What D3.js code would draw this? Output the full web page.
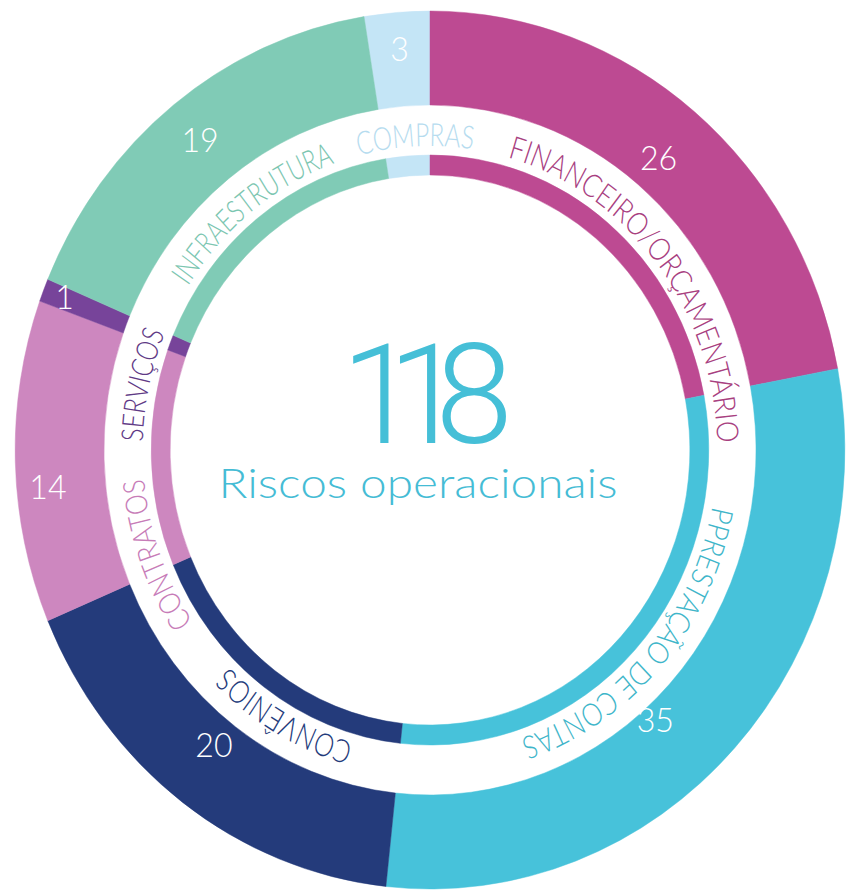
<!DOCTYPE html>
<html>
<head>
<meta charset="utf-8">
<title>Riscos operacionais</title>
<script src="https://d3js.org/d3.v7.min.js"></script>
<style>
  body { margin: 0; background: #fff; }
  svg { font-family: "Lato", "Open Sans", sans-serif; }
</style>
</head>
<body>
<script>

// data, in drawing order (clockwise, Compras ends at 12 o'clock)
var categories = ["COMPRAS", "FINANCEIRO/ORÇAMENTÁRIO", "PPRESTAÇÃO DE CONTAS", "CONVÊNIOS", "CONTRATOS", "SERVIÇOS", "INFRAESTRUTURA"];
var values = [3, 26, 35, 20, 14, 1, 19];
var colors = ["#c4e5f6", "#bd4a92", "#47c2da", "#243b7b", "#cd87bf", "#77449a", "#80cbb6"];
var labelColors = ["#b6dcef", "#a8407f", "#3fb6ca", "#243b7b", "#c77cb8", "#5f3a86", "#7cc6b1"];
var centerLabel = "Riscos operacionais";

// layout
var width = 846, height = 893;
var cx = 430, cy = 450, squeeze = 0.945;   // source picture is a bit narrow
var rOuter = 439, rOuterIn = 345, rThin = 295, rThinIn = 275;
var rText = 304, rValue = 392;
// curved label placement: shift from slice middle and arc span (degrees)
var labelShift = [1.6, 12.4, -1.7, -6.6, -18.4, -9.3, -0.3];
var labelSpan = [23, 73, 61, 29, 29, 21, 38];
// number nudges: [radius, degrees]
var valueNudge = [[11, 0], [-13, 0], [-32, 5.8], [-19, 1.2], [14, -3.6], [24, 0.3], [2, 0]];

var total = d3.sum(values);
var rad = Math.PI / 180;

var svg = d3.select("body").append("svg")
    .attr("width", width)
    .attr("height", height);

var g = svg.append("g")
    .attr("transform", "translate(" + cx + "," + cy + ") scale(" + squeeze + ",1)");

var startA = -2 * Math.PI * values[0] / total;
var pie = d3.pie()
    .sort(null)
    .startAngle(startA)
    .endAngle(startA + 2 * Math.PI);

var slices = pie(values);

var outerArc = d3.arc().innerRadius(rOuterIn).outerRadius(rOuter);
var thinArc = d3.arc().innerRadius(rThinIn).outerRadius(rThin);

g.selectAll("path.outer")
    .data(slices)
    .enter().append("path")
    .attr("class", "outer")
    .attr("d", outerArc)
    .style("fill", function (d, i) { return colors[i]; })
    .style("stroke", function (d, i) { return colors[i]; })
    .style("stroke-width", 0.5);

g.selectAll("path.thin")
    .data(slices)
    .enter().append("path")
    .attr("class", "thin")
    .attr("d", thinArc)
    .style("fill", function (d, i) { return colors[i]; })
    .style("stroke", function (d, i) { return colors[i]; })
    .style("stroke-width", 0.5);

// circle path for labels, starts at 6 o'clock and runs clockwise
g.append("path")
    .attr("id", "labelCircle")
    .attr("d", "M0," + rText + " A" + rText + "," + rText + " 0 1,1 0," + (-rText) +
               " A" + rText + "," + rText + " 0 1,1 0," + rText)
    .style("fill", "none");

var circ = 2 * Math.PI * rText;

g.selectAll("text.cat")
    .data(slices)
    .enter().append("text")
    .attr("class", "cat")
    .style("font-size", "32px")
    .style("font-weight", 300)
    .style("fill", function (d, i) { return labelColors[i]; })
    .append("textPath")
    .attr("href", "#labelCircle")
    .attr("text-anchor", "middle")
    .attr("startOffset", function (d, i) {
        var a = (d.startAngle + d.endAngle) / 2 / rad + labelShift[i];
        var along = ((a - 180) % 360 + 360) % 360;
        return (along / 360 * circ).toFixed(1);
    })
    .attr("textLength", function (d, i) { return (labelSpan[i] * rad * rText).toFixed(1); })
    .attr("lengthAdjust", "spacingAndGlyphs")
    .text(function (d, i) { return categories[i]; });

// values in the outer ring
g.selectAll("text.val")
    .data(slices)
    .enter().append("text")
    .attr("class", "val")
    .attr("x", function (d, i) {
        var a = (d.startAngle + d.endAngle) / 2 + valueNudge[i][1] * rad;
        return Math.sin(a) * (rValue + valueNudge[i][0]);
    })
    .attr("y", function (d, i) {
        var a = (d.startAngle + d.endAngle) / 2 + valueNudge[i][1] * rad;
        return -Math.cos(a) * (rValue + valueNudge[i][0]);
    })
    .attr("dy", "0.36em")
    .attr("text-anchor", "middle")
    .style("font-size", "34px")
    .style("font-weight", 300)
    .style("fill", "#ffffff")
    .text(function (d) { return d.data; });

// centre: total, digits pulled together like the narrow source face
svg.append("text")
    .attr("x", 427)
    .attr("y", 443)
    .attr("text-anchor", "middle")
    .attr("dx", "0 -31 -30")
    .style("font-family", "Roboto, sans-serif")
    .style("font-size", "140px")
    .style("font-weight", 300)
    .style("fill", "#45bfd7")
    .text(total);

svg.append("text")
    .attr("x", 418)
    .attr("y", 498)
    .attr("text-anchor", "middle")
    .attr("textLength", 399)
    .attr("lengthAdjust", "spacingAndGlyphs")
    .style("font-size", "42px")
    .style("font-weight", 300)
    .style("fill", "#45bcd5")
    .text(centerLabel);

</script>
</body>
</html>
